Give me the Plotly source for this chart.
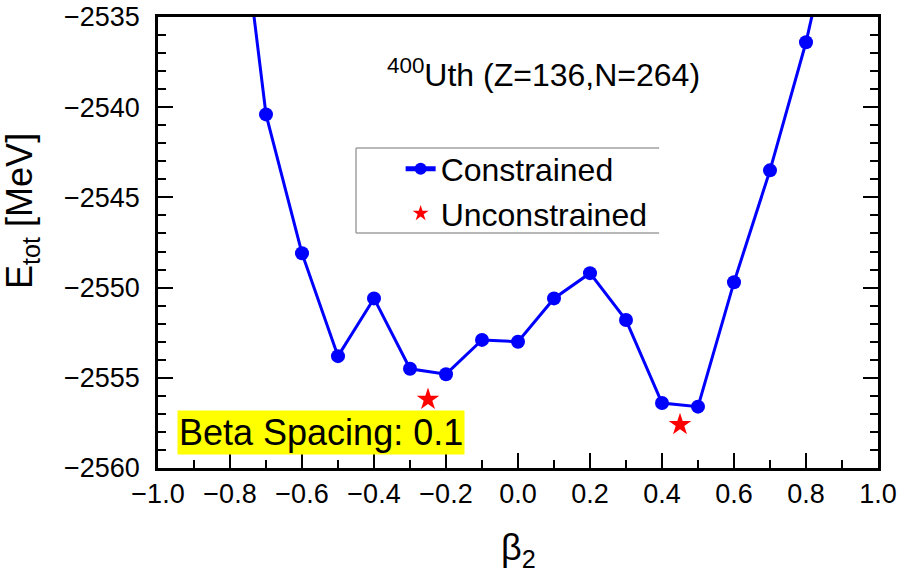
import plotly.graph_objects as go

# Total energy vs. quadrupole deformation for 400Uth
beta2 = [-0.8, -0.7, -0.6, -0.5, -0.4, -0.3, -0.2, -0.1, 0.0,
         0.1, 0.2, 0.3, 0.4, 0.5, 0.6, 0.7, 0.8, 0.9]
e_constrained = [-2524.1, -2540.4, -2548.1, -2553.8, -2550.6, -2554.5,
                 -2554.8, -2552.9, -2553.0, -2550.6, -2549.2, -2551.8,
                 -2556.4, -2556.6, -2549.7, -2543.5, -2536.4, -2527.6]

# Unconstrained minima
beta2_free = [-0.25, 0.45]
e_free = [-2556.2, -2557.6]

x_range = [-1.0, 1.0]
y_range = [-2560, -2535]
x_major, x_minor = 0.2, 0.1
y_major, y_minor = 5, 1

FONT = "Liberation Sans, Arial, sans-serif"
BLACK = "#000000"

trace_c = go.Scatter(
    x=beta2, y=e_constrained, mode="lines+markers", name="Constrained",
    line=dict(color="#0000FF", width=3),
    marker=dict(color="#0000FF", size=14, symbol="circle"),
)
trace_u = go.Scatter(
    x=beta2_free, y=e_free, mode="markers", name="Unconstrained",
    marker=dict(color="#FF0000", size=17, symbol="star", line=dict(width=0)),
)

xaxis = dict(
    range=x_range, autorange=False, tickmode="linear", tick0=x_range[0],
    dtick=x_major, tickformat=".1f", tickangle=0,
    ticks="inside", ticklen=15, tickwidth=2, tickcolor=BLACK,
    minor=dict(ticks="inside", ticklen=8, tickwidth=2, tickcolor=BLACK,
               tick0=x_range[0], dtick=x_minor, showgrid=False),
    showline=True, linecolor=BLACK, linewidth=2.5, mirror=True,
    showgrid=False, zeroline=False, showticklabels=True,
    tickfont=dict(family=FONT, size=27, color=BLACK),
)
# Top edge carries its own tick marks
xaxis2 = dict(
    overlaying="x", anchor="y", side="top", matches="x",
    range=x_range, autorange=False, tickmode="linear", tick0=x_range[0],
    dtick=x_major, ticks="inside", ticklen=15, tickwidth=2, tickcolor=BLACK,
    minor=dict(ticks="inside", ticklen=8, tickwidth=2, tickcolor=BLACK,
               tick0=x_range[0], dtick=x_minor, showgrid=False),
    showticklabels=False, showline=False, showgrid=False, zeroline=False,
)
yaxis = dict(
    range=y_range, autorange=False, tickmode="linear", tick0=y_range[0],
    dtick=y_major, ticklabelstandoff=10,
    ticks="inside", ticklen=15, tickwidth=2, tickcolor=BLACK,
    minor=dict(ticks="inside", ticklen=8, tickwidth=2, tickcolor=BLACK,
               dtick=y_minor, showgrid=False),
    showline=True, linecolor=BLACK, linewidth=2.5, mirror="ticks",
    showgrid=False, zeroline=False,
    tickfont=dict(family=FONT, size=27, color=BLACK),
)

layout = go.Layout(
    template="none",
    width=900, height=573,
    margin=dict(l=158, r=22, t=17, b=105),
    paper_bgcolor="white", plot_bgcolor="white",
    xaxis=xaxis, xaxis2=xaxis2, yaxis=yaxis,
    showlegend=True,
    legend=dict(
        x=0.337, y=0.724, xanchor="left", yanchor="top",
        bgcolor="rgba(0,0,0,0)", borderwidth=0,
        font=dict(family=FONT, size=32, color=BLACK),
        tracegroupgap=0, itemsizing="constant",
    ),
    font=dict(family=FONT, color=BLACK),
)

fig = go.Figure(data=[trace_c, trace_u], layout=layout)

fig.add_annotation(
    text="β<sub>2</sub>",
    xref="paper", yref="paper", x=0.5, y=0, yshift=-82,
    xanchor="center", yanchor="middle", showarrow=False,
    font=dict(family=FONT, size=36, color=BLACK),
)
fig.add_annotation(
    text="E<sub>tot</sub> [MeV]", textangle=-90,
    xref="paper", yref="paper", x=0, y=0.57, xshift=-136,
    xanchor="center", yanchor="middle", showarrow=False,
    font=dict(family=FONT, size=36, color=BLACK),
)
fig.add_annotation(
    text="<sup>400</sup>Uth (Z=136,N=264)",
    xref="paper", yref="paper", x=0.535, y=0.875,
    xanchor="center", yanchor="middle", showarrow=False,
    font=dict(family=FONT, size=32, color=BLACK),
)
fig.add_annotation(
    text="Beta Spacing: 0.1",
    xref="paper", yref="paper", x=0.227, y=0.079,
    xanchor="center", yanchor="middle", showarrow=False,
    bgcolor="#FFFF00", borderpad=1,
    font=dict(family=FONT, size=36, color=BLACK),
)

# Legend frame: top, bottom and left edges
frame = dict(type="line", xref="paper", yref="paper",
             line=dict(color="#A0A0A0", width=1.5))
lx0, lx1, ly0, ly1 = 0.275, 0.696, 0.521, 0.7095
fig.add_shape(x0=lx0, x1=lx1, y0=ly1, y1=ly1, **frame)
fig.add_shape(x0=lx0, x1=lx1, y0=ly0, y1=ly0, **frame)
fig.add_shape(x0=lx0, x1=lx0, y0=ly0, y1=ly1, **frame)

fig.write_html("out.html")
